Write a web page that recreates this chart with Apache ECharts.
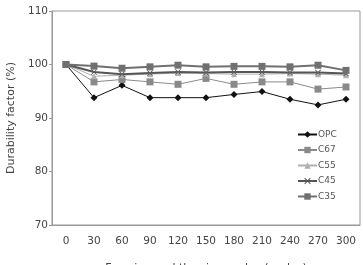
<!DOCTYPE html>
<html>
<head>
<meta charset="utf-8">
<script src="https://cdn.jsdelivr.net/npm/echarts@6/dist/echarts.min.js"></script>
<style>
  html, body { margin: 0; padding: 0; background: #fff; }
  #chart { width: 363px; height: 265px; }
</style>
</head>
<body>
<div id="chart"></div>
<script>
const cycles = ['0', '30', '60', '90', '120', '150', '180', '210', '240', '270', '300'];
const opc = [100, 93.8, 96.1, 93.8, 93.8, 93.8, 94.4, 94.95, 93.5, 92.45, 93.5];
const c67 = [100, 96.75, 97.2, 96.75, 96.3, 97.4, 96.3, 96.75, 96.75, 95.4, 95.8];
const c55 = [100, 97.8, 98.0, 98.2, 98.4, 98.3, 98.2, 98.2, 98.3, 98.2, 98.0];
const c45 = [100, 98.6, 98.2, 98.4, 98.6, 98.5, 98.6, 98.6, 98.5, 98.5, 98.3];
const c35 = [100, 99.7, 99.3, 99.56, 99.87, 99.56, 99.65, 99.65, 99.56, 99.87, 98.9];

const chart = echarts.init(document.getElementById('chart'), null, { renderer: 'canvas' });

// X-shaped marker, drawn as a filled outline so it shows in the legend too
const crossMark = 'path://M0,1L1,0L5,4L9,0L10,1L6,5L10,9L9,10L5,6L1,10L0,9L4,5Z';

function line(name, data, color, width, symbol, size) {
  return {
    name: name,
    type: 'line',
    data: data,
    symbol: symbol,
    symbolSize: size,
    lineStyle: { color: color, width: width },
    itemStyle: { color: color },
    animation: false
  };
}

chart.setOption({
  animation: false,
  grid: {
    left: 52, right: 3, top: 11, bottom: 40,
    outerBoundsMode: 'none',
    show: true, borderColor: '#999', borderWidth: 1
  },
  legend: {
    orient: 'vertical',
    left: 292,
    top: 125,
    itemWidth: 19,
    itemHeight: 8,
    itemGap: 6.5,
    textStyle: { fontFamily: 'DejaVu Sans', fontSize: 9, color: '#555', padding: [0, 0, 0, -4] },
    data: ['OPC', 'C67', 'C55', 'C45', 'C35']
  },
  xAxis: {
    type: 'category',
    data: cycles,
    boundaryGap: true,
    axisLine: { lineStyle: { color: '#999' } },
    axisTick: { show: false },
    axisLabel: { color: '#444', fontFamily: 'DejaVu Sans', fontSize: 10.5, margin: 11 },
    name: 'Freezing and thawing cycles (cycles)',
    nameLocation: 'middle',
    nameGap: 38,
    nameTextStyle: { color: '#444', fontFamily: 'DejaVu Sans', fontSize: 11 }
  },
  yAxis: {
    type: 'value',
    min: 70, max: 110, interval: 10,
    splitLine: { show: false },
    axisLine: { show: true, lineStyle: { color: '#999' } },
    axisTick: { show: true, length: 3, lineStyle: { color: '#999' } },
    axisLabel: { color: '#444', fontFamily: 'DejaVu Sans', fontSize: 10.5, margin: 4 },
    name: 'Durability factor (%)',
    nameLocation: 'middle',
    nameGap: 35,
    nameTextStyle: { color: '#444', fontFamily: 'DejaVu Sans', fontSize: 11 }
  },
  series: [
    line('OPC', opc, '#111', 1, 'diamond', 7),
    line('C67', c67, '#8a8a8a', 1, 'rect', 7),
    line('C55', c55, '#b0b0b0', 1, 'triangle', 6),
    line('C45', c45, '#555', 2, crossMark, 6),
    line('C35', c35, '#707070', 2, 'rect', 7)
  ]
});
</script>
</body>
</html>
